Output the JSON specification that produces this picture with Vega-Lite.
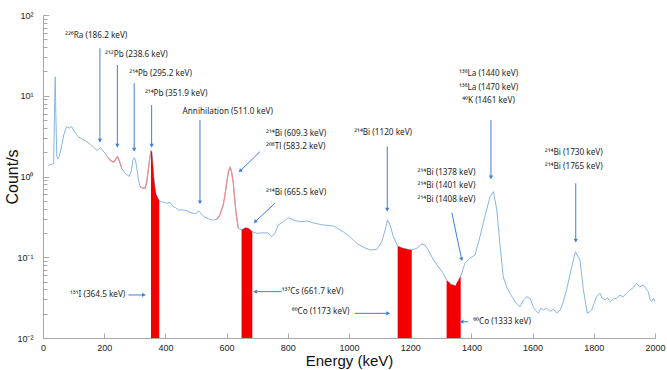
{
  "$schema": "https://vega.github.io/schema/vega-lite/v6.json",
  "width": 612,
  "height": 323,
  "autosize": "none",
  "padding": {"left": 43, "top": 15, "right": 12, "bottom": 32},
  "background": "white",
  "config": {"view": {"stroke": null}, "font": "Liberation Sans"},
  "datasets": {
    "spectrum": [
      {"E":17,"cps":1.35},{"E":22,"cps":1.4},{"E":30,"cps":1.42},{"E":35,"cps":1.45},{"E":38,"cps":8},{"E":40,"cps":17.2},{"E":42,"cps":6},{"E":45,"cps":1.8},{"E":48,"cps":1.65},{"E":53,"cps":1.76},
      {"E":60,"cps":2.3},{"E":68,"cps":3.3},{"E":77,"cps":4.14},{"E":86,"cps":3.99},{"E":94,"cps":4.14},{"E":99,"cps":3.77},{"E":108,"cps":3.4},{"E":115,"cps":3.11},{"E":128,"cps":2.9},{"E":143,"cps":2.7},
      {"E":155,"cps":2.5},{"E":164,"cps":2.34},{"E":175,"cps":2.13},{"E":181,"cps":2.15},{"E":188,"cps":2.3},{"E":195,"cps":2.1},{"E":203,"cps":1.94},{"E":212,"cps":1.72},{"E":219,"cps":1.6},{"E":227,"cps":1.52},
      {"E":232,"cps":1.52},{"E":238,"cps":1.65},{"E":243,"cps":1.76},{"E":247,"cps":1.65},{"E":252,"cps":1.46},{"E":258,"cps":1.25},{"E":268,"cps":1.1},{"E":282,"cps":1.0},{"E":289,"cps":1.2},{"E":294,"cps":1.6},
      {"E":298,"cps":1.71},{"E":302,"cps":1.6},{"E":306,"cps":1.32},{"E":311,"cps":0.95},{"E":317,"cps":0.75},{"E":325,"cps":0.72},{"E":333,"cps":0.71},{"E":339,"cps":0.85},{"E":344,"cps":1.2},{"E":349,"cps":1.7},
      {"E":353,"cps":2.09},{"E":356,"cps":2.0},{"E":358,"cps":1.6},{"E":362,"cps":1.0},{"E":366,"cps":0.72},{"E":370,"cps":0.6},{"E":375,"cps":0.54},{"E":380,"cps":0.5},{"E":388,"cps":0.487},{"E":395,"cps":0.48},
      {"E":404,"cps":0.466},{"E":415,"cps":0.479},{"E":426,"cps":0.423},{"E":434,"cps":0.41},{"E":442,"cps":0.385},{"E":458,"cps":0.385},{"E":470,"cps":0.377},{"E":480,"cps":0.36},{"E":491,"cps":0.35},{"E":502,"cps":0.35},
      {"E":508,"cps":0.377},{"E":514,"cps":0.36},{"E":521,"cps":0.33},{"E":529,"cps":0.313},{"E":540,"cps":0.3},{"E":551,"cps":0.289},{"E":558,"cps":0.29},{"E":568,"cps":0.295},{"E":578,"cps":0.333},{"E":589,"cps":0.444},
      {"E":595,"cps":0.6},{"E":600,"cps":0.824},{"E":606,"cps":1.15},{"E":611,"cps":1.3},{"E":616,"cps":1.15},{"E":622,"cps":0.824},{"E":626,"cps":0.55},{"E":631,"cps":0.35},{"E":638,"cps":0.229},{"E":649,"cps":0.217},
      {"E":655,"cps":0.225},{"E":662,"cps":0.232},{"E":670,"cps":0.229},{"E":677,"cps":0.22},{"E":684,"cps":0.207},{"E":698,"cps":0.198},{"E":715,"cps":0.2},{"E":736,"cps":0.2},{"E":747,"cps":0.18},{"E":758,"cps":0.198},
      {"E":769,"cps":0.251},{"E":785,"cps":0.275},{"E":802,"cps":0.309},{"E":818,"cps":0.289},{"E":840,"cps":0.275},{"E":862,"cps":0.281},{"E":889,"cps":0.263},{"E":916,"cps":0.251},{"E":949,"cps":0.244},{"E":965,"cps":0.225},
      {"E":981,"cps":0.207},{"E":1003,"cps":0.18},{"E":1025,"cps":0.149},{"E":1047,"cps":0.133},{"E":1069,"cps":0.123},{"E":1091,"cps":0.125},{"E":1107,"cps":0.156},{"E":1118,"cps":0.217},{"E":1126,"cps":0.289},{"E":1134,"cps":0.251},
      {"E":1145,"cps":0.18},{"E":1159,"cps":0.138},{"E":1170,"cps":0.132},{"E":1177,"cps":0.129},{"E":1185,"cps":0.127},{"E":1194,"cps":0.125},{"E":1205,"cps":0.123},{"E":1221,"cps":0.129},{"E":1238,"cps":0.146},{"E":1248,"cps":0.142},
      {"E":1259,"cps":0.123},{"E":1276,"cps":0.0925},{"E":1292,"cps":0.0764},{"E":1308,"cps":0.0633},{"E":1319,"cps":0.052},{"E":1325,"cps":0.0498},{"E":1333,"cps":0.046},{"E":1341,"cps":0.0453},{"E":1348,"cps":0.044},{"E":1352,"cps":0.0475},
      {"E":1358,"cps":0.052},{"E":1365,"cps":0.0586},{"E":1379,"cps":0.0841},{"E":1395,"cps":0.097},{"E":1412,"cps":0.107},{"E":1428,"cps":0.18},{"E":1444,"cps":0.318},{"E":1461,"cps":0.562},{"E":1472,"cps":0.648},{"E":1483,"cps":0.385},
      {"E":1493,"cps":0.149},{"E":1504,"cps":0.0574},{"E":1515,"cps":0.0432},{"E":1526,"cps":0.0358},{"E":1534,"cps":0.032},{"E":1543,"cps":0.0282},{"E":1551,"cps":0.026},{"E":1559,"cps":0.0244},{"E":1570,"cps":0.0296},{"E":1581,"cps":0.0324},{"E":1592,"cps":0.031},{"E":1602,"cps":0.0244},
      {"E":1610,"cps":0.022},{"E":1619,"cps":0.0202},{"E":1627,"cps":0.0235},{"E":1635,"cps":0.0222},{"E":1646,"cps":0.0235},{"E":1657,"cps":0.0213},{"E":1668,"cps":0.0228},{"E":1679,"cps":0.0202},{"E":1690,"cps":0.0222},{"E":1700,"cps":0.028},{"E":1711,"cps":0.0393},{"E":1728,"cps":0.0764},{"E":1740,"cps":0.117},{"E":1755,"cps":0.0925},{"E":1766,"cps":0.0393},
      {"E":1779,"cps":0.0202},{"E":1793,"cps":0.0222},{"E":1809,"cps":0.0324},{"E":1820,"cps":0.0358},{"E":1828,"cps":0.031},{"E":1837,"cps":0.0296},{"E":1845,"cps":0.0315},{"E":1853,"cps":0.0282},{"E":1864,"cps":0.0305},{"E":1875,"cps":0.031},{"E":1885,"cps":0.034},{"E":1896,"cps":0.0324},{"E":1907,"cps":0.036},{"E":1918,"cps":0.0393},{"E":1929,"cps":0.042},{"E":1940,"cps":0.0475},
      {"E":1950,"cps":0.043},{"E":1962,"cps":0.0453},{"E":1970,"cps":0.041},{"E":1978,"cps":0.0374},{"E":1984,"cps":0.03},{"E":1989,"cps":0.0282},{"E":1995,"cps":0.031},{"E":2000,"cps":0.0282}
    ],
    "red": [
      {"seg":1,"E":212,"cps":1.72},{"seg":1,"E":219,"cps":1.6},{"seg":1,"E":227,"cps":1.52},{"seg":1,"E":232,"cps":1.52},{"seg":1,"E":238,"cps":1.65},{"seg":1,"E":243,"cps":1.76},{"seg":1,"E":247,"cps":1.65},{"seg":1,"E":252,"cps":1.46},{"seg":1,"E":258,"cps":1.25},
      {"seg":2,"E":317,"cps":0.75},{"seg":2,"E":325,"cps":0.72},{"seg":2,"E":333,"cps":0.71},{"seg":2,"E":339,"cps":0.85},{"seg":2,"E":344,"cps":1.2},{"seg":2,"E":349,"cps":1.7},{"seg":2,"E":353,"cps":2.09},
      {"seg":3,"E":568,"cps":0.295},{"seg":3,"E":578,"cps":0.333},{"seg":3,"E":589,"cps":0.444},{"seg":3,"E":595,"cps":0.6},{"seg":3,"E":600,"cps":0.824},{"seg":3,"E":606,"cps":1.15},{"seg":3,"E":611,"cps":1.3},{"seg":3,"E":616,"cps":1.15},{"seg":3,"E":622,"cps":0.824},{"seg":3,"E":626,"cps":0.55},{"seg":3,"E":631,"cps":0.35},{"seg":3,"E":638,"cps":0.229}
    ],
    "fills": [
      {"band":"I131","E":353,"cps":2.09},{"band":"I131","E":356,"cps":2.0},{"band":"I131","E":358,"cps":1.6},{"band":"I131","E":362,"cps":1.0},{"band":"I131","E":366,"cps":0.72},{"band":"I131","E":370,"cps":0.6},{"band":"I131","E":375,"cps":0.54},{"band":"I131","E":380,"cps":0.5},
      {"band":"Cs137","E":649,"cps":0.217},{"band":"Cs137","E":655,"cps":0.225},{"band":"Cs137","E":662,"cps":0.232},{"band":"Cs137","E":670,"cps":0.229},{"band":"Cs137","E":677,"cps":0.22},{"band":"Cs137","E":684,"cps":0.207},
      {"band":"Co1173","E":1159,"cps":0.138},{"band":"Co1173","E":1170,"cps":0.132},{"band":"Co1173","E":1177,"cps":0.129},{"band":"Co1173","E":1185,"cps":0.127},{"band":"Co1173","E":1194,"cps":0.125},{"band":"Co1173","E":1205,"cps":0.123},
      {"band":"Co1333","E":1319,"cps":0.052},{"band":"Co1333","E":1325,"cps":0.0498},{"band":"Co1333","E":1333,"cps":0.046},{"band":"Co1333","E":1341,"cps":0.0453},{"band":"Co1333","E":1348,"cps":0.044},{"band":"Co1333","E":1352,"cps":0.0475},{"band":"Co1333","E":1358,"cps":0.052},{"band":"Co1333","E":1365,"cps":0.0586}
    ],
    "arrows": [
      {"id":"Ra","E1":186,"c1":38.7,"E2":186,"c2":2.7},
      {"id":"Pb212","E1":243,"c1":24.0,"E2":243,"c2":2.34},
      {"id":"Pb295","E1":298,"c1":14.3,"E2":298,"c2":2.09},
      {"id":"Pb352","E1":355,"c1":7.68,"E2":355,"c2":2.34},
      {"id":"Ann","E1":513,"c1":5.01,"E2":513,"c2":0.466},
      {"id":"Bi609","E1":709,"c1":2.03,"E2":644,"c2":1.17},
      {"id":"Bi665","E1":758,"c1":0.466,"E2":693,"c2":0.275},
      {"id":"Cs137","E1":780,"c1":0.0375,"E2":693,"c2":0.0375},
      {"id":"I131","E1":279,"c1":0.0341,"E2":330,"c2":0.0341},
      {"id":"Co1173","E1":1019,"c1":0.0202,"E2":1128,"c2":0.0202},
      {"id":"Co1333","E1":1390,"c1":0.0159,"E2":1368,"c2":0.0159},
      {"id":"Bi1120","E1":1125,"c1":2.34,"E2":1125,"c2":0.377},
      {"id":"Bi1378","E1":1336,"c1":0.356,"E2":1368,"c2":0.0944},
      {"id":"LaK","E1":1464,"c1":5.01,"E2":1464,"c2":0.95},
      {"id":"Bi1730","E1":1741,"c1":0.824,"E2":1741,"c2":0.156}
    ],
    "labels": [
      {"group":"Ra","label":"²²⁶Ra (186.2 keV)","E":72,"cps":55.4},
      {"group":"Pb212","label":"²¹²Pb (238.6 keV)","E":203,"cps":32.0},
      {"group":"Pb295","label":"²¹⁴Pb (295.2 keV)","E":282,"cps":18.4},
      {"group":"Pb352","label":"²¹⁴Pb (351.9 keV)","E":333,"cps":10.5},
      {"group":"Ann","label":"Annihilation (511.0 keV)","E":456,"cps":6.24},
      {"group":"Bi609","label":"²¹⁴Bi (609.3 keV)","E":729,"cps":3.33},
      {"group":"Bi609","label":"²⁰⁸Tl (583.2 keV)","E":729,"cps":2.3},
      {"group":"Bi665","label":"²¹⁴Bi (665.5 keV)","E":729,"cps":0.619},
      {"group":"Bi1120","label":"²¹⁴Bi (1120 keV)","E":1017,"cps":3.49},
      {"group":"Cs137","label":"¹³⁷Cs (661.7 keV)","E":780,"cps":0.0374},
      {"group":"Co1173","label":"⁶⁰Co (1173 keV)","E":813,"cps":0.0208},
      {"group":"I131","label":"¹³¹I (364.5 keV)","E":88,"cps":0.0341},
      {"group":"Co1333","label":"⁶⁰Co (1333 keV)","E":1406,"cps":0.0159},
      {"group":"Bi1378","label":"²¹⁴Bi (1378 keV)","E":1224,"cps":1.096},
      {"group":"Bi1378","label":"²¹⁴Bi (1401 keV)","E":1224,"cps":0.762},
      {"group":"Bi1378","label":"²¹⁴Bi (1408 keV)","E":1224,"cps":0.512},
      {"group":"Bi1730","label":"²¹⁴Bi (1730 keV)","E":1640,"cps":1.94},
      {"group":"Bi1730","label":"²¹⁴Bi (1765 keV)","E":1640,"cps":1.32},
      {"group":"LaK","label":"¹³⁸La (1440 keV)","E":1456,"cps":18.6},
      {"group":"LaK","label":"¹³⁸La (1470 keV)","E":1456,"cps":12.6},
      {"group":"LaK","label":"⁴⁰K (1461 keV)","E":1456,"cps":8.68}
    ]
  },
  "layer": [
    {
      "data": {"name": "spectrum"},
      "mark": {"type": "line", "color": "#86b6e6", "strokeWidth": 1},
      "encoding": {
        "x": {"field": "E", "type": "quantitative",
          "scale": {"domain": [0, 2000], "nice": false, "zero": false},
          "axis": {"values": [0,200,400,600,800,1000,1200,1400,1600,1800,2000], "format": "d", "grid": false,
            "domainColor": "#a8a8a8", "tickColor": "#a8a8a8", "tickSize": -5, "labelPadding": 10,
            "labelFontSize": 9, "labelColor": "#222", "labelFlush": false, "labelOverlap": false,
            "title": "Energy (keV)", "titleFontSize": 15, "titleFontWeight": "normal", "titleColor": "#111",
            "titleBaseline": "middle", "titleY": 22}},
        "y": {"field": "cps", "type": "quantitative",
          "scale": {"type": "log", "domain": [0.01, 100], "nice": false},
          "axis": {"values": [0.01,0.02,0.03,0.04,0.05,0.06,0.07,0.08,0.09,0.1,0.2,0.3,0.4,0.5,0.6,0.7,0.8,0.9,1,2,3,4,5,6,7,8,9,10,20,30,40,50,60,70,80,90,100],
            "labelExpr": "datum.value == 100 ? '10²' : datum.value == 10 ? '10¹' : datum.value == 1 ? '10⁰' : datum.value == 0.1 ? '10⁻¹' : datum.value == 0.01 ? '10⁻²' : ''",
            "grid": false, "domainColor": "#a8a8a8", "tickColor": "#a8a8a8",
            "tickSize": {"condition": {"test": "datum.value == 100 || datum.value == 10 || datum.value == 1 || datum.value == 0.1 || datum.value == 0.01", "value": -6}, "value": -4},
            "labelPadding": 16, "labelFontSize": 9, "labelColor": "#222", "labelOverlap": false, "labelFlush": false,
            "title": "Count/s", "titleFontSize": 16, "titleFontWeight": "normal", "titleColor": "#111",
            "titleX": -31, "titleY": 161.5, "titleBaseline": "middle", "titleAlign": "center"}}
      }
    },
    {
      "data": {"name": "red"},
      "mark": {"type": "line", "color": "#f58a86", "strokeWidth": 1.2},
      "encoding": {
        "x": {"field": "E", "type": "quantitative"},
        "y": {"field": "cps", "type": "quantitative"},
        "detail": {"field": "seg", "type": "nominal"}
      }
    },
    {
      "data": {"name": "fills"},
      "mark": {"type": "area", "color": "#f20000", "opacity": 1},
      "encoding": {
        "x": {"field": "E", "type": "quantitative"},
        "y": {"field": "cps", "type": "quantitative"},
        "y2": {"datum": 0.01},
        "detail": {"field": "band", "type": "nominal"}
      }
    },
    {
      "data": {"name": "arrows"},
      "mark": {"type": "rule", "color": "#3d7fd9", "strokeWidth": 1},
      "encoding": {
        "x": {"field": "E1", "type": "quantitative"},
        "y": {"field": "c1", "type": "quantitative"},
        "x2": {"field": "E2"},
        "y2": {"field": "c2"}
      }
    },
    {
      "data": {"name": "arrows"},
      "transform": [{"filter": {"field": "id", "oneOf": ["Ra","Pb212","Pb295","Pb352","Ann","Bi1120","LaK","Bi1730"]}}],
      "mark": {"type": "point", "shape": "triangle-down", "filled": true, "color": "#3d7fd9", "size": 18, "opacity": 1, "yOffset": -1},
      "encoding": {
        "x": {"field": "E2", "type": "quantitative"},
        "y": {"field": "c2", "type": "quantitative"}
      }
    },
    {
      "data": {"name": "arrows"},
      "transform": [{"filter": {"field": "id", "oneOf": ["I131","Co1173"]}}],
      "mark": {"type": "point", "shape": "triangle-right", "filled": true, "color": "#3d7fd9", "size": 18, "opacity": 1},
      "encoding": {
        "x": {"field": "E2", "type": "quantitative"},
        "y": {"field": "c2", "type": "quantitative"}
      }
    },
    {
      "data": {"name": "arrows"},
      "transform": [{"filter": {"field": "id", "oneOf": ["Cs137","Co1333"]}}],
      "mark": {"type": "point", "shape": "triangle-left", "filled": true, "color": "#3d7fd9", "size": 18, "opacity": 1},
      "encoding": {
        "x": {"field": "E2", "type": "quantitative"},
        "y": {"field": "c2", "type": "quantitative"}
      }
    },
    {
      "data": {"name": "arrows"},
      "transform": [{"filter": {"field": "id", "oneOf": ["Bi609","Bi665"]}}],
      "mark": {"type": "point", "shape": "triangle-down", "angle": 45, "filled": true, "color": "#3d7fd9", "size": 18, "opacity": 1},
      "encoding": {
        "x": {"field": "E2", "type": "quantitative"},
        "y": {"field": "c2", "type": "quantitative"}
      }
    },
    {
      "data": {"name": "arrows"},
      "transform": [{"filter": {"field": "id", "oneOf": ["Bi1378"]}}],
      "mark": {"type": "point", "shape": "triangle-down", "angle": -12, "filled": true, "color": "#3d7fd9", "size": 18, "opacity": 1},
      "encoding": {
        "x": {"field": "E2", "type": "quantitative"},
        "y": {"field": "c2", "type": "quantitative"}
      }
    },
    {
      "data": {"name": "labels"},
      "transform": [{"filter": "datum.group != 'LaK'"}],
      "mark": {"type": "text", "align": "left", "baseline": "middle", "fontSize": 8.2, "color": "#262626", "font": "Noto Sans"},
      "encoding": {
        "x": {"field": "E", "type": "quantitative"},
        "y": {"field": "cps", "type": "quantitative"},
        "text": {"field": "label"}
      }
    },
    {
      "data": {"name": "labels"},
      "transform": [{"filter": "datum.group == 'LaK'"}],
      "mark": {"type": "text", "align": "center", "baseline": "middle", "fontSize": 8.2, "color": "#262626", "font": "Noto Sans"},
      "encoding": {
        "x": {"field": "E", "type": "quantitative"},
        "y": {"field": "cps", "type": "quantitative"},
        "text": {"field": "label"}
      }
    }
  ]
}
